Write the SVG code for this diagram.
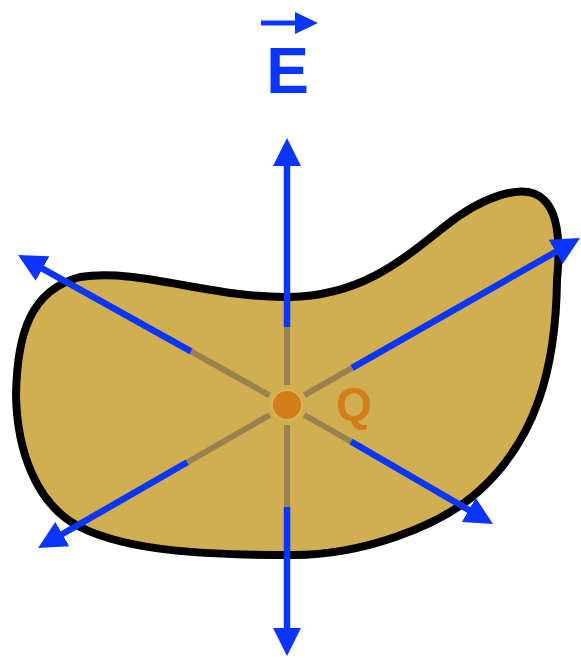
<svg xmlns="http://www.w3.org/2000/svg" width="581" height="658" viewBox="0 0 581 658">
<style>
.blue{stroke:#0A35FF;stroke-width:6.5;fill:none;stroke-linecap:butt}
.brown{stroke:#9A8250;stroke-width:6;fill:none}
.lbl{font-family:"Liberation Sans",Arial,sans-serif;font-weight:bold}
</style>
<defs>
<marker id="ah" markerUnits="userSpaceOnUse" markerWidth="28" markerHeight="28" refX="14" refY="14" orient="auto">
<path d="M0,0 L28,14 L0,28 z" fill="#0A35FF"/>
</marker>
</defs>
<rect width="581" height="658" fill="#FFFFFF"/>
<g id="blob">
<path d="M16,395 C17,335 30,290 80,277 C140,268 210,298 289,297 C360,296 400,262 444,227 C480,198 525,180 544,200 C560,215 560,250 557,280 C556,370 535,440 480,490 C440,527 360,556 289,555 C210,555 130,552 80,527 C36,505 17,450 16,395 Z" fill="#D1AE50" stroke="#000000" stroke-width="8" stroke-linejoin="round"/>
</g>
<g id="connectors">
<line class="brown" x1="287" y1="385" x2="287" y2="327"/>
<line class="blue" x1="287" y1="327" x2="287" y2="152" marker-end="url(#ah)"/>
<line class="brown" x1="287" y1="425" x2="287" y2="507"/>
<line class="blue" x1="287" y1="507" x2="287" y2="642" marker-end="url(#ah)"/>
<line class="brown" x1="269.5" y1="395.3" x2="191" y2="351.4"/>
<line class="blue" x1="191" y1="351.4" x2="30.3" y2="261.8" marker-end="url(#ah)"/>
<line class="brown" x1="304.4" y1="395.1" x2="352.2" y2="367.9"/>
<line class="blue" x1="352.2" y1="367.9" x2="567.8" y2="245" marker-end="url(#ah)"/>
<line class="brown" x1="304.3" y1="415" x2="351" y2="441.5"/>
<line class="blue" x1="351" y1="441.5" x2="480.9" y2="517" marker-end="url(#ah)"/>
<line class="brown" x1="269.7" y1="415" x2="187.3" y2="462.3"/>
<line class="blue" x1="187.3" y1="462.3" x2="50.2" y2="541" marker-end="url(#ah)"/>
</g>
<g id="charge-Q">
<circle cx="287" cy="405" r="16" fill="#D8B45A"/>
<circle cx="287" cy="405" r="14" fill="#D27E1A"/>
<text class="lbl" x="336" y="420" font-size="46" fill="#D27E1A">Q</text>
</g>
<g id="field-E">
<line x1="261" y1="23" x2="297" y2="23" stroke="#0A35FF" stroke-width="5"/>
<path d="M295,12 L318,23 L295,34 z" fill="#0A35FF"/>
<text class="lbl" x="287.5" y="93" font-size="64" fill="#0A35FF" text-anchor="middle">E</text>
</g>
</svg>
